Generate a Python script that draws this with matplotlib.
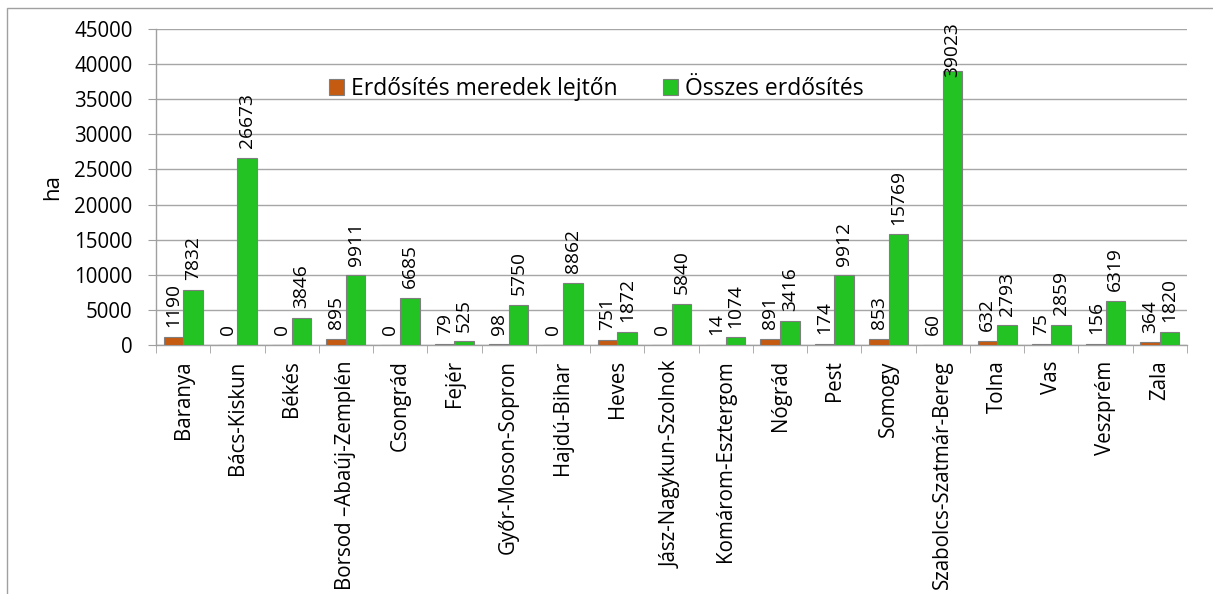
import numpy as np
import matplotlib
matplotlib.use("Agg")
import matplotlib.pyplot as plt
from matplotlib.patches import Rectangle

plt.rcParams['font.family'] = ['Open Sans', 'DejaVu Sans']

counties = ['Baranya', 'Bács-Kiskun', 'Békés', 'Borsod –Abaúj-Zemplén', 'Csongrád',
            'Fejér', 'Győr-Moson-Sopron', 'Hajdú-Bihar', 'Heves', 'Jász-Nagykun-Szolnok',
            'Komárom-Esztergom', 'Nógrád', 'Pest', 'Somogy', 'Szabolcs-Szatmár-Bereg',
            'Tolna', 'Vas', 'Veszprém', 'Zala']
steep = [1190, 0, 0, 895, 0, 79, 98, 0, 751, 0, 14, 891, 174, 853, 60, 632, 75, 156, 364]
total = [7832, 26673, 3846, 9911, 6685, 525, 5750, 8862, 1872, 5840, 1074, 3416, 9912,
         15769, 39023, 2793, 2859, 6319, 1820]
series_names = ['Erdősítés meredek lejtőn', 'Összes erdősítés']
yticks = [0, 5000, 10000, 15000, 20000, 25000, 30000, 35000, 40000, 45000]

W, H = 1213, 594
fig = plt.figure(figsize=(W / 100, H / 100), dpi=100)
ax = fig.add_axes([156 / W, 1 - 345 / H, (1187 - 156) / W, (345 - 29) / H])

# outer chart border (bottom is cut off in the reference)
fig.patches.append(Rectangle((7 / W, -0.2), 1.5, 1.2 - 8 / H, transform=fig.transFigure,
                             fill=False, edgecolor='#A0A0A0', linewidth=1.0))

x = np.arange(len(counties))
bw = 0.36
b1 = ax.bar(x - bw / 2, steep, bw, color='#C55A11', edgecolor='#7F7F7F', linewidth=0.8,
            label=series_names[0], zorder=3)
b2 = ax.bar(x + bw / 2, total, bw, color='#22C322', edgecolor='#7F7F7F', linewidth=0.8,
            label=series_names[1], zorder=3)

labels = []
for bars, vals in ((b1, steep), (b2, total)):
    for rect, v in zip(bars, vals):
        t = ax.annotate(str(v), (rect.get_x() + rect.get_width() / 2, v),
                        xytext=(0, 7), textcoords='offset points', rotation=90,
                        ha='center', va='bottom', fontsize=13.8, color='black',
                        annotation_clip=False, zorder=4)
        labels.append(t)

ax.set_xlim(-0.5, len(counties) - 0.5)
ax.set_ylim(0, 45000)
ax.set_yticks(yticks)
ax.set_yticklabels([str(t) for t in yticks], fontsize=14.8)
ax.yaxis.grid(True, color='#A6A6A6', linewidth=1.0, zorder=0)
ax.set_axisbelow(True)

ax.set_xticks(x)
ax.set_xticklabels(counties, rotation=90, fontsize=14.8, va='top')
ax.set_xticks(np.arange(len(counties) + 1) - 0.5, minor=True)
ax.tick_params(axis='x', which='major', length=0, pad=11)
ax.tick_params(axis='x', which='minor', length=6, color='#A0A0A0', direction='out')
ax.tick_params(axis='y', length=6, color='#A0A0A0', pad=11)

for s in ('top', 'right'):
    ax.spines[s].set_visible(False)
for s in ('left', 'bottom'):
    ax.spines[s].set_color('#A0A0A0')
    ax.spines[s].set_linewidth(1.0)

ax.set_ylabel('ha', fontsize=16, labelpad=8)

ax.legend(loc='center left', bbox_to_anchor=(0.168, 0.81), ncol=2, frameon=False,
          fontsize=16.5, handlelength=0.65, handleheight=0.65, handletextpad=0.3,
          columnspacing=2.0, borderpad=0, borderaxespad=0)

# keep data labels inside the chart area, like the spreadsheet does
fig.canvas.draw()
r = fig.canvas.get_renderer()
for t in labels:
    bb = t.get_window_extent(r)
    over = bb.y1 - (H - 22)
    if over > 0:
        t.xyann = (0, 7 - over * 72 / 100)

fig.savefig('out.png', dpi=100)
